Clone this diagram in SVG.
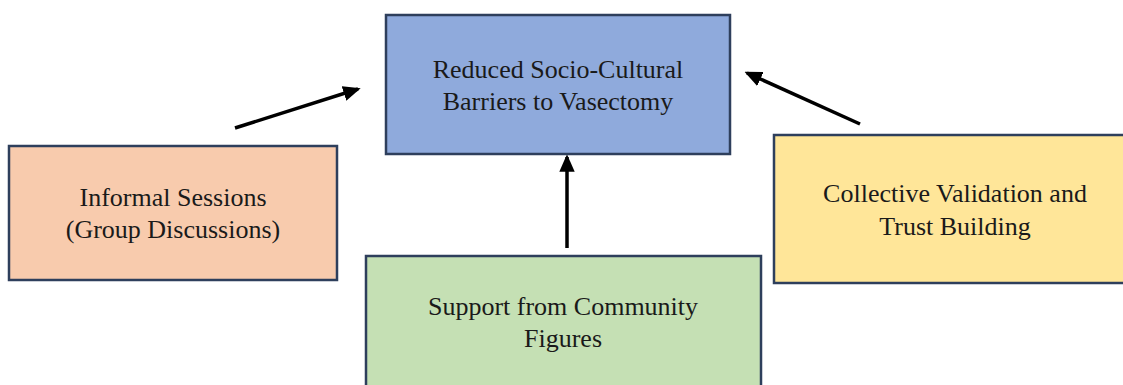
<svg xmlns="http://www.w3.org/2000/svg" width="1123" height="385" viewBox="0 0 1123 385">
<defs>
<style>
.box{stroke:#2e3f5c;stroke-width:2.5}
.t{font-family:"Liberation Serif","Times New Roman",serif;font-size:26px;fill:#1a1a1a;text-anchor:middle}
.c{stroke:#000;stroke-width:3.5;fill:none;marker-end:url(#ah)}
</style>
<marker id="ah" markerWidth="5" markerHeight="4.4" refX="4.2" refY="2.2" orient="auto" markerUnits="strokeWidth">
<path d="M0,0 L5,2.2 L0,4.4 Z" fill="#000"/>
</marker>
</defs>
<rect width="1123" height="385" fill="#fff"/>
<g id="connectors">
<line class="c" x1="235" y1="128" x2="358" y2="89"/>
<line class="c" x1="567" y1="248" x2="567" y2="157"/>
<line class="c" x1="860" y1="124" x2="747" y2="73"/>
</g>
<g id="node-center">
<rect class="box" x="386" y="15" width="344" height="139" fill="#8faadc"/>
<text class="t" x="558" y="78">Reduced Socio-Cultural</text>
<text class="t" x="558" y="110">Barriers to Vasectomy</text>
</g>
<g id="node-informal">
<rect class="box" x="9" y="146" width="328" height="134" fill="#f8cbad"/>
<text class="t" x="173" y="206">Informal Sessions</text>
<text class="t" x="173" y="238">(Group Discussions)</text>
</g>
<g id="node-collective">
<rect class="box" x="774" y="135" width="362" height="148" fill="#ffe699"/>
<text class="t" x="955" y="202">Collective Validation and</text>
<text class="t" x="955" y="235">Trust Building</text>
</g>
<g id="node-support">
<rect class="box" x="366" y="256" width="395" height="140" fill="#c5e0b4"/>
<text class="t" x="563" y="315">Support from Community</text>
<text class="t" x="563" y="347">Figures</text>
</g>
</svg>
